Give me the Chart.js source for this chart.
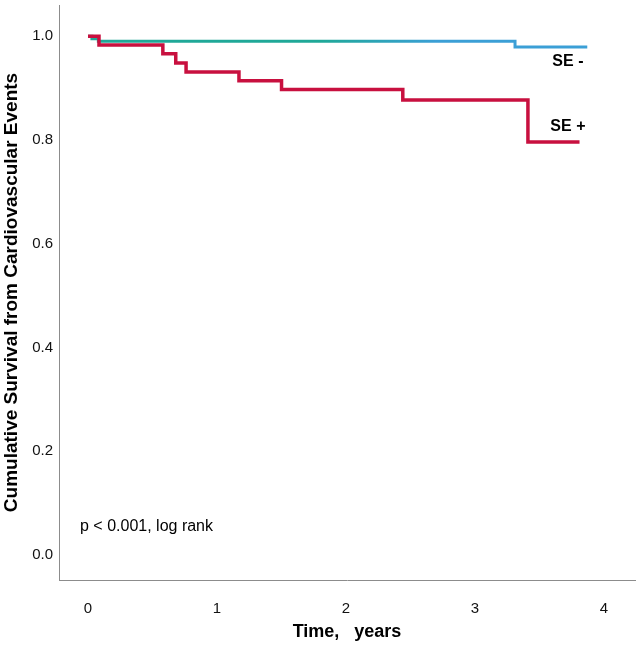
<!DOCTYPE html>
<html>
<head>
<meta charset="utf-8">
<script src="https://cdn.jsdelivr.net/npm/chart.js@4.4.1/dist/chart.umd.min.js"></script>
<style>
  html, body { margin: 0; padding: 0; background: #fff; }
  #wrap { width: 640px; height: 648px; }
</style>
</head>
<body>
<div id="wrap"><canvas id="km"></canvas></div>
<script>
// Kaplan-Meier steps (time in years, survival)
const seNegTimes = [0, 0.03, 0.08, 3.31, 3.87];
const seNegSurv  = [1.0, 0.995, 0.990, 0.979, 0.979];

const sePosTimes = [0, 0.085, 0.58, 0.68, 0.76, 1.17, 1.50, 2.44, 3.41, 3.81];
const sePosSurv  = [1.0, 0.983, 0.966, 0.948, 0.931, 0.914, 0.897, 0.877, 0.796, 0.796];

const xTicks = [0, 1, 2, 3, 4];
const yTicks = [0, 0.2, 0.4, 0.6, 0.8, 1.0];

const FONT = '"Liberation Sans", Arial, sans-serif';

function toPoints(xs, ys) {
  return xs.map((x, i) => ({ x: x, y: ys[i] }));
}

// SE- line fades from teal to blue like the original
function tealBlue(ctx) {
  const chart = ctx.chart;
  const area = chart.chartArea;
  if (!area) return '#1fa898';
  const xs = chart.scales.x;
  const g = chart.ctx.createLinearGradient(xs.getPixelForValue(1.8), 0, xs.getPixelForValue(2.7), 0);
  g.addColorStop(0, '#1fa898');
  g.addColorStop(1, '#3b9fd6');
  return g;
}

const notes = {
  id: 'notes',
  afterDatasetsDraw(chart) {
    const c = chart.ctx;
    const x = chart.scales.x, y = chart.scales.y;
    c.save();
    c.fillStyle = '#000';
    c.textBaseline = 'middle';
    c.textAlign = 'center';
    c.font = 'bold 16px ' + FONT;
    c.fillText('SE -', x.getPixelForValue(3.72), y.getPixelForValue(0.95));
    c.fillText('SE +', x.getPixelForValue(3.72), y.getPixelForValue(0.825));
    c.textAlign = 'left';
    c.font = '16px ' + FONT;
    c.fillText('p < 0.001, log rank', x.getPixelForValue(-0.062), y.getPixelForValue(0.055));
    c.restore();
  }
};

new Chart(document.getElementById('km'), {
  type: 'line',
  data: {
    datasets: [
      {
        label: 'SE +',
        data: toPoints(sePosTimes, sePosSurv),
        stepped: 'before',
        borderColor: '#c8103f',
        borderWidth: 3.5,
        pointRadius: 0,
        fill: false,
        order: 1
      },
      {
        label: 'SE -',
        data: toPoints(seNegTimes, seNegSurv),
        stepped: 'before',
        borderColor: tealBlue,
        borderWidth: 3,
        pointRadius: 0,
        fill: false,
        order: 2
      }
    ]
  },
  options: {
    responsive: true,
    maintainAspectRatio: false,
    animation: false,
    layout: { padding: { top: 5, right: 5, left: 0, bottom: 0 } },
    plugins: {
      legend: { display: false },
      tooltip: { enabled: false }
    },
    scales: {
      x: {
        type: 'linear',
        min: -0.225,
        max: 4.24,
        afterBuildTicks: s => { s.ticks = xTicks.map(v => ({ value: v })); },
        afterFit: s => { s.height = 68; s.paddingLeft = 0; s.paddingRight = 0; },
        grid: { display: false, drawTicks: false },
        border: { display: true, color: '#8c8c8c', width: 1 },
        ticks: {
          padding: 20,
          color: '#111',
          font: { family: FONT, size: 15 },
          callback: v => String(v)
        },
        title: {
          display: true,
          text: 'Time,   years',
          color: '#000',
          font: { family: FONT, size: 18, weight: 'bold' },
          padding: { top: 0, bottom: 5 }
        }
      },
      y: {
        min: -0.048,
        max: 1.06,
        afterBuildTicks: s => { s.ticks = yTicks.map(v => ({ value: v })); },
        afterFit: s => { s.width = 59; s.paddingTop = 0; s.paddingBottom = 0; },
        grid: { display: false, drawTicks: false },
        border: { display: true, color: '#8c8c8c', width: 1 },
        ticks: {
          padding: 6,
          color: '#111',
          font: { family: FONT, size: 15 },
          callback: v => v.toFixed(1)
        },
        title: {
          display: true,
          text: 'Cumulative Survival from Cardiovascular Events',
          color: '#000',
          font: { family: FONT, size: 19, weight: 'bold' },
          padding: { top: 0, bottom: 0 }
        }
      }
    }
  },
  plugins: [notes]
});
</script>
</body>
</html>
